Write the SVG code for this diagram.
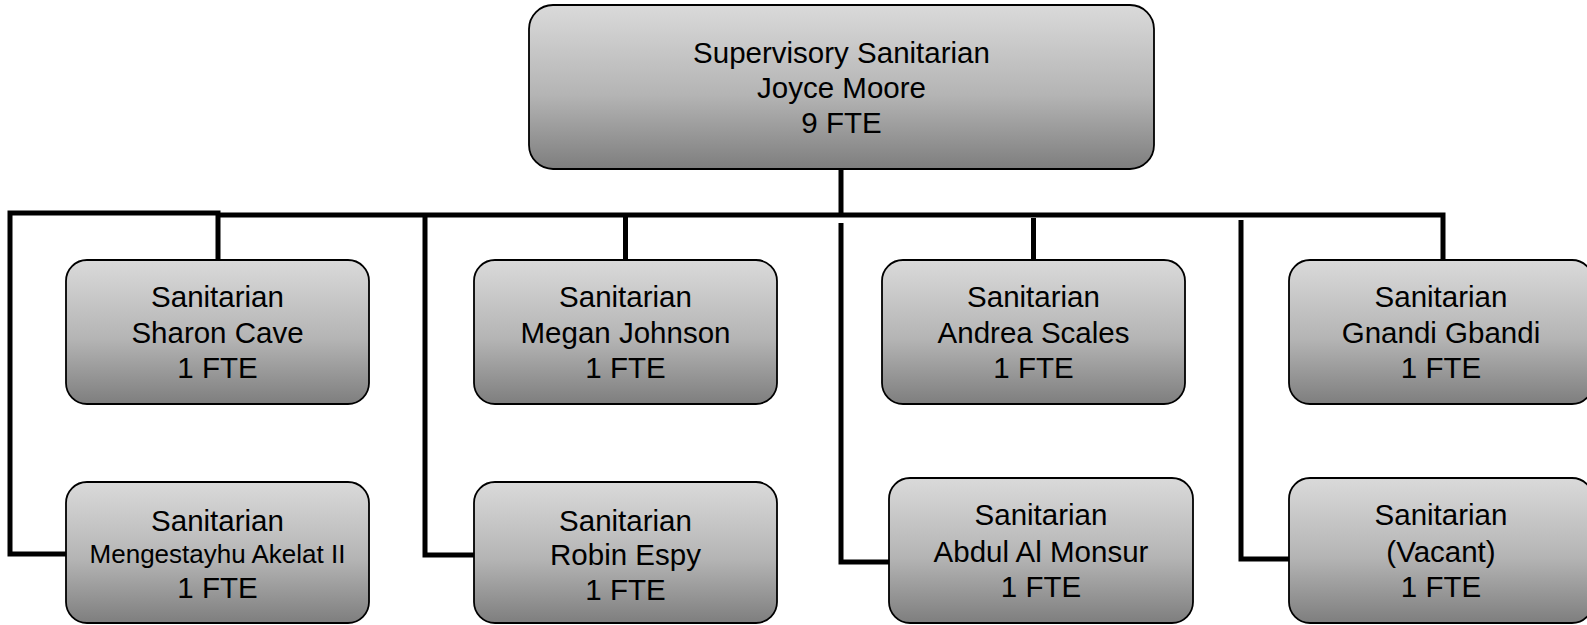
<svg xmlns="http://www.w3.org/2000/svg" width="1587" height="625" viewBox="0 0 1587 625">
  <defs>
    <linearGradient id="boxFill" x1="0" y1="0" x2="0" y2="1">
      <stop offset="0" stop-color="#dadada"/>
      <stop offset="0.55" stop-color="#b4b4b4"/>
      <stop offset="1" stop-color="#7e7e7e"/>
    </linearGradient>
    <style>
      .box { fill: url(#boxFill); stroke: #000; stroke-width: 1.8; }
      .lbl { font-family: "Liberation Sans", Arial, sans-serif; font-size: 29.5px; fill: #000; text-anchor: middle; }
      .small { font-size: 26px; }
      .wire { fill: none; stroke: #000; stroke-width: 5; stroke-linejoin: miter; stroke-linecap: butt; }
    </style>
  </defs>
  <rect width="1587" height="625" fill="#fff"/>

  <!-- connectors -->
  <g id="connectors">
    <path class="wire" d="M841 169 V215"/>
    <path class="wire" d="M218 215 H1443 V260"/>
    <path class="wire" d="M66 554 H10 V213 H218 V260"/>
    <path class="wire" d="M474 555 H425 V215"/>
    <path class="wire" d="M625.5 215 V260"/>
    <path class="wire" d="M889 562 H841 V223"/>
    <path class="wire" d="M1033.5 218 V260"/>
    <path class="wire" d="M1289 559 H1241 V220"/>
  </g>

  <!-- supervisor -->
  <g id="supervisor">
    <rect class="box" x="529" y="5" width="625" height="164" rx="24"/>
    <text class="lbl" x="841.5" y="63">Supervisory Sanitarian</text>
    <text class="lbl" x="841.5" y="98">Joyce Moore</text>
    <text class="lbl" x="841.5" y="133">9 FTE</text>
  </g>

  <!-- first row -->
  <g id="sharon-cave">
    <rect class="box" x="66" y="260" width="303" height="144" rx="21"/>
    <text class="lbl" x="217.5" y="307">Sanitarian</text>
    <text class="lbl" x="217.5" y="343">Sharon Cave</text>
    <text class="lbl" x="217.5" y="378">1 FTE</text>
  </g>
  <g id="megan-johnson">
    <rect class="box" x="474" y="260" width="303" height="144" rx="21"/>
    <text class="lbl" x="625.5" y="307">Sanitarian</text>
    <text class="lbl" x="625.5" y="343">Megan Johnson</text>
    <text class="lbl" x="625.5" y="378">1 FTE</text>
  </g>
  <g id="andrea-scales">
    <rect class="box" x="882" y="260" width="303" height="144" rx="21"/>
    <text class="lbl" x="1033.5" y="307">Sanitarian</text>
    <text class="lbl" x="1033.5" y="343">Andrea Scales</text>
    <text class="lbl" x="1033.5" y="378">1 FTE</text>
  </g>
  <g id="gnandi-gbandi">
    <rect class="box" x="1289" y="260" width="304" height="144" rx="21"/>
    <text class="lbl" x="1441" y="307">Sanitarian</text>
    <text class="lbl" x="1441" y="343">Gnandi Gbandi</text>
    <text class="lbl" x="1441" y="378">1 FTE</text>
  </g>

  <!-- second row -->
  <g id="mengestayhu-akelat">
    <rect class="box" x="66" y="482" width="303" height="141" rx="21"/>
    <text class="lbl" x="217.5" y="531">Sanitarian</text>
    <text class="lbl small" x="217.5" y="563">Mengestayhu Akelat II</text>
    <text class="lbl" x="217.5" y="598">1 FTE</text>
  </g>
  <g id="robin-espy">
    <rect class="box" x="474" y="482" width="303" height="141" rx="21"/>
    <text class="lbl" x="625.5" y="531">Sanitarian</text>
    <text class="lbl" x="625.5" y="565">Robin Espy</text>
    <text class="lbl" x="625.5" y="600">1 FTE</text>
  </g>
  <g id="abdul-al-monsur">
    <rect class="box" x="889" y="478" width="304" height="145" rx="21"/>
    <text class="lbl" x="1041" y="525">Sanitarian</text>
    <text class="lbl" x="1041" y="562">Abdul Al Monsur</text>
    <text class="lbl" x="1041" y="597">1 FTE</text>
  </g>
  <g id="vacant">
    <rect class="box" x="1289" y="478" width="304" height="145" rx="21"/>
    <text class="lbl" x="1441" y="525">Sanitarian</text>
    <text class="lbl" x="1441" y="562">(Vacant)</text>
    <text class="lbl" x="1441" y="597">1 FTE</text>
  </g>
</svg>
